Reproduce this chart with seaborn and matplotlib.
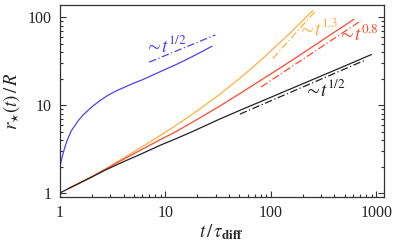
import numpy as np
import pandas as pd
import matplotlib
matplotlib.use("Agg")
import matplotlib.pyplot as plt
import seaborn as sns

# ---- data ----
blue_t = [1.0, 1.05, 1.11, 1.18, 1.28, 1.48, 1.65, 1.99, 2.4, 2.86, 3.4, 4.13,
          5.0, 5.95, 7.2, 8.6, 10.3, 12.4, 14.8, 17.8, 22.0, 27.6]
blue_r = [2.0, 2.6, 3.3, 4.1, 5.1, 6.6, 7.7, 9.5, 11.3, 13.0, 14.5, 16.1,
          17.8, 19.3, 21.4, 23.6, 26.0, 28.7, 31.8, 35.5, 40.5, 46.9]

black_t = [1.0, 1.25, 1.5, 2.0, 2.68, 4.0, 5.5, 8.95, 12.0, 18.0, 32.0, 55.0,
           100.0, 180.0, 300.0, 500.0, 897.0]
black_r = [1.0, 1.15, 1.28, 1.52, 1.82, 2.27, 2.68, 3.5, 4.05, 5.0, 6.87, 9.1,
           12.3, 16.6, 21.5, 27.9, 37.7]

red_t = [1.2, 1.5, 2.0, 2.68, 4.0, 5.5, 8.95, 12.0, 18.0, 32.0, 50.0, 80.0,
         130.0, 200.0, 350.0, 612.0]
red_r = [1.12, 1.28, 1.53, 1.85, 2.42, 2.97, 4.06, 4.85, 6.39, 9.6, 13.4, 19.2,
         27.8, 39.0, 61.0, 95.0]

orange_t = [1.2, 1.5, 2.0, 2.68, 4.0, 5.5, 8.95, 12.0, 18.0, 32.0, 50.0, 83.0,
            144.0, 250.0]
orange_r = [1.12, 1.28, 1.53, 1.87, 2.5, 3.16, 4.53, 5.68, 7.89, 13.0, 19.9, 33.7,
            62.4, 119.6]

# reference power-law guides (start/end points)
guide_blue_t, guide_blue_r = [7.0, 29.7], [30.9, 63.0]
guide_black_t, guide_black_r = [50.7, 775.0], [7.9, 32.4]
guide_red_t, guide_red_r = [80.6, 720.0], [16.1, 92.3]
guide_orange_t, guide_orange_r = [104.0, 268.0], [34.0, 120.0]

labels = [r"$\sim\!t^{1/2}$", r"$\sim\!t^{1.3}$", r"$\sim\!t^{0.8}$", r"$\sim\!t^{1/2}$"]
label_t = [10.1, 282.0, 680.0, 326.0]
label_r = [47.4, 75.0, 63.0, 15.2]

xticks = [1, 10, 100, 1000]
xticklabels = ["1", "10", "100", "1000"]
yticks = [1, 10, 100]
yticklabels = ["1", "10", "100"]

# ---- style ----
sns.set_style("ticks")
plt.rcParams["font.family"] = ["Liberation Serif", "DejaVu Serif"]
plt.rcParams["mathtext.fontset"] = "stix"

BLUE = "#5a3cf0"
BLACK = "#222222"
RED = "#ff4a2a"
ORANGE = "#ffb040"

fig = plt.figure(figsize=(3.97, 2.42), dpi=100)
ax = fig.add_axes([60 / 397, 1 - 197 / 242, (384 - 60) / 397, (197 - 4.5) / 242])

lw = 0.9
dashdot = (0, (6, 2, 1, 2))

def draw(t, r, color, ls="-"):
    df = pd.DataFrame({"t": t, "r": r})
    sns.lineplot(data=df, x="t", y="r", ax=ax, color=color, lw=lw,
                 sort=False, estimator=None, linestyle=ls)

draw(blue_t, blue_r, BLUE)
draw(orange_t, orange_r, ORANGE)
draw(red_t, red_r, RED)
draw(black_t, black_r, BLACK)

draw(guide_blue_t, guide_blue_r, BLUE, dashdot)
draw(guide_orange_t, guide_orange_r, ORANGE, dashdot)
draw(guide_red_t, guide_red_r, RED, dashdot)
draw(guide_black_t, guide_black_r, BLACK, dashdot)

for txt, tt, rr, c in zip(labels, label_t, label_r, [BLUE, ORANGE, RED, BLACK]):
    ax.text(tt, rr, txt, color=c, fontsize=13.5, ha="center", va="center")

ax.set_xscale("log")
ax.set_yscale("log")
ax.set_xlim(1, 1180)
ax.set_ylim(0.9, 140)
ax.set_xticks(xticks)
ax.set_xticklabels(xticklabels)
ax.set_yticks(yticks)
ax.set_yticklabels(yticklabels)
ax.tick_params(which="both", direction="in", right=True, top=False,
               labelsize=11.5, color="#333333", width=0.8)
ax.tick_params(which="major", length=4.5, pad=6)
ax.tick_params(which="minor", length=2.5)
for s in ax.spines.values():
    s.set_visible(True)
    s.set_linewidth(0.9)
    s.set_color("#333333")

ax.set_xlabel(r"$t\,/\,\tau_{\mathbf{diff}}$", fontsize=13.5, labelpad=1)
ax.set_ylabel(r"$r_{\star}(t)\,/\,R$", fontsize=13.5, labelpad=4)

fig.savefig("out.png", dpi=100)
